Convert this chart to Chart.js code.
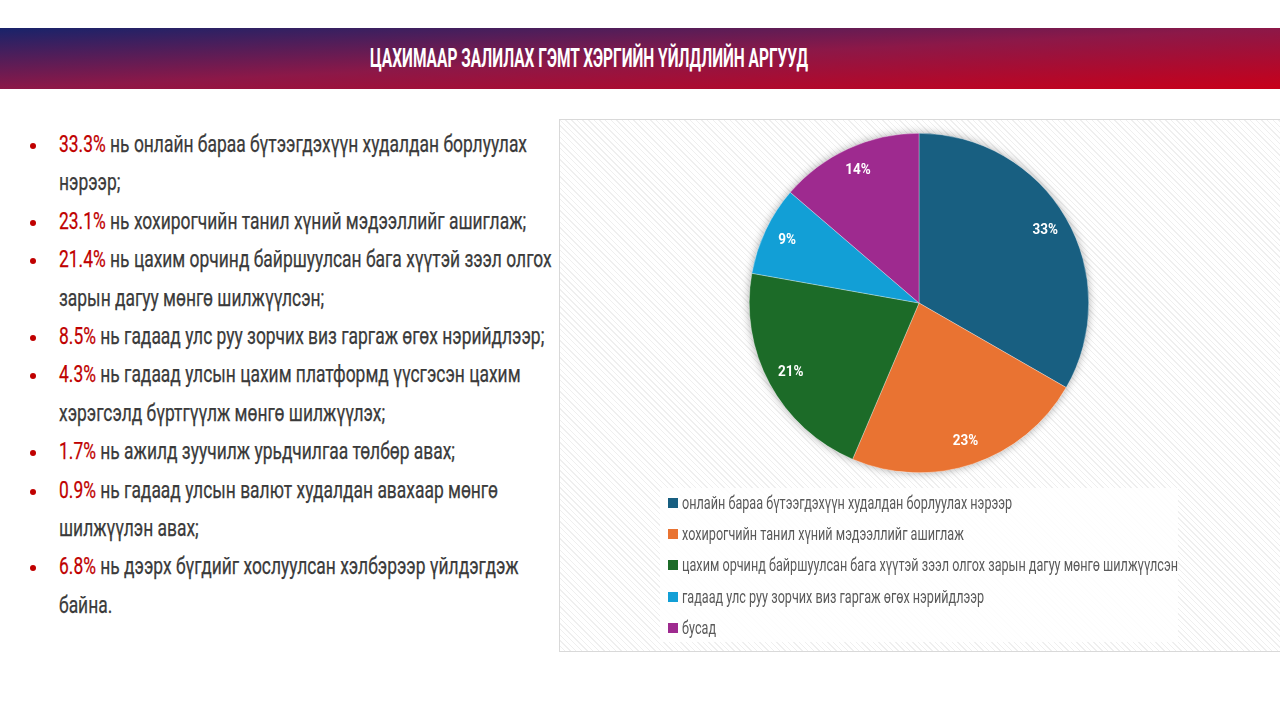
<!DOCTYPE html>
<html>
<head>
<meta charset="utf-8">
<script src="https://cdn.jsdelivr.net/npm/chart.js@4"></script>
<style>
  html, body { margin: 0; padding: 0; background: #fff; }
  body { width: 1280px; height: 720px; position: relative; overflow: hidden; font-family: Roboto, "Liberation Sans", sans-serif; }
  #banner { position: absolute; left: 0; top: 28px; width: 1280px; height: 61px;
    background: linear-gradient(to bottom right, #18236a 0%, #8c1848 50%, #c8001a 100%); }
  #banner h1 { position: absolute; left: 370px; top: 14px; margin: 0; color: #fff; font-size: 26px; line-height: 32px; font-weight: bold; white-space: nowrap; transform-origin: left top; }
  #list { position: absolute; left: 0; top: 126px; width: 600px; margin: 0; padding: 0; list-style: none; }
  #list li { position: relative; font-size: 23px; font-weight: 400; line-height: 38.4px; color: #3a3a3a; }
  #list .dot { position: absolute; left: 30px; top: 17px; width: 6px; height: 6px; border-radius: 3px; background: #c00000; }
  #list .txt { position: relative; left: 59px; transform-origin: left top; -webkit-text-stroke: 0.25px #3a3a3a; }
  #list .pc { color: #c00000; -webkit-text-stroke: 0.25px #c00000; }
  #panel { position: absolute; left: 559px; top: 119px; width: 730px; height: 531px; border: 1px solid #d9d9d9;
    background: repeating-linear-gradient(45deg, #ffffff 0px, #ffffff 3px, #efefef 3px, #efefef 4px); }
  #wrap { position: absolute; left: 719px; top: 103px; width: 400px; height: 400px; }
  #legend { position: absolute; left: 660px; top: 488px; width: 518px; height: 154px; background: rgba(255,255,255,0.88); }
  .li { position: absolute; left: 8px; height: 20px; white-space: nowrap; }
  .li span.box { position: absolute; left: 0; top: 5px; width: 10px; height: 10px; }
  .li span.tx { position: absolute; left: 14px; top: 0; line-height: 20px; font-size: 17.5px; color: #595959; transform-origin: left top; }
</style>
</head>
<body>
<div id="banner"><h1 id="title">ЦАХИМААР ЗАЛИЛАХ ГЭМТ ХЭРГИЙН ҮЙЛДЛИЙН АРГУУД</h1></div>
<ul id="list"></ul>
<div id="panel"></div>
<div id="wrap"><canvas id="pie"></canvas></div>
<div id="legend"></div>
<script>
// pie data
const labels = [
  'онлайн бараа бүтээгдэхүүн худалдан борлуулах нэрээр',
  'хохирогчийн танил хүний мэдээллийг ашиглаж',
  'цахим орчинд байршуулсан бага хүүтэй зээл олгох зарын дагуу мөнгө шилжүүлсэн',
  'гадаад улс руу зорчих виз гаргаж өгөх нэрийдлээр',
  'бусад'
]
const values = [33.3, 23.1, 21.4, 8.5, 13.7]
const colors = ['#185f81', '#e97332', '#1c6b28', '#129fd6', '#9e2a8f']

// bullet list on the left
const bulletPercents = ['33.3%', '23.1%', '21.4%', '8.5%', '4.3%', '1.7%', '0.9%', '6.8%']
const bulletTexts = [
  'нь онлайн бараа бүтээгдэхүүн худалдан борлуулах нэрээр;',
  'нь хохирогчийн танил хүний мэдээллийг ашиглаж;',
  'нь цахим орчинд байршуулсан бага хүүтэй зээл олгох зарын дагуу мөнгө шилжүүлсэн;',
  'нь гадаад улс руу зорчих виз гаргаж өгөх нэрийдлээр;',
  'нь гадаад улсын цахим платформд үүсгэсэн цахим хэрэгсэлд бүртгүүлж мөнгө шилжүүлэх;',
  'нь ажилд зуучилж урьдчилгаа төлбөр авах;',
  'нь гадаад улсын валют худалдан авахаар мөнгө шилжүүлэн авах;',
  'нь дээрх бүгдийг хослуулсан хэлбэрээр үйлдэгдэж байна.'
]

// squeeze a text horizontally so it looks like the condensed face of the slide
function squeeze(el, targetWidth) {
  const w = el.getBoundingClientRect().width
  const s = targetWidth / w
  el.style.transform = 'scaleX(' + s + ')'
  return s
}

const title = document.getElementById('title')
squeeze(title, 438)

// measure the first line to get the condensing factor for the list
const probe = document.createElement('span')
probe.style.cssText = 'position:absolute;visibility:hidden;white-space:nowrap;font-size:23px;font-weight:400;font-family:Roboto'
probe.textContent = bulletPercents[0] + ' нь онлайн бараа бүтээгдэхүүн худалдан борлуулах'
document.body.appendChild(probe)
const listScale = 468 / probe.getBoundingClientRect().width
probe.remove()

const list = document.getElementById('list')
bulletPercents.forEach((p, i) => {
  const li = document.createElement('li')
  li.innerHTML = '<span class="dot"></span><div class="txt"><span class="pc">' + p + '</span> ' + bulletTexts[i] + '</div>'
  const txt = li.querySelector('.txt')
  txt.style.width = (505 / listScale) + 'px'
  txt.style.transform = 'scaleX(' + listScale + ')'
  list.appendChild(li)
})

const legend = document.getElementById('legend')
const spans = []
labels.forEach((l, i) => {
  const d = document.createElement('div')
  d.className = 'li'
  d.style.top = (5 + i * 31.2) + 'px'
  d.innerHTML = '<span class="box" style="background:' + colors[i] + '"></span><span class="tx">' + l + '</span>'
  legend.appendChild(d)
  spans.push(d.querySelector('.tx'))
})
// longest legend entry spans about 496px in the slide
const legScale = squeeze(spans[2], 496)
spans.forEach(s => { s.style.transform = 'scaleX(' + legScale + ')' })

// soft shadow under the pie
const shadowPlugin = {
  id: 'pieShadow',
  beforeDatasetsDraw(chart) {
    const arc = chart.getDatasetMeta(0).data[0]
    const ctx = chart.ctx
    ctx.save()
    ctx.shadowColor = 'rgba(0,0,0,0.35)'
    ctx.shadowBlur = 9
    ctx.fillStyle = '#fff'
    ctx.beginPath()
    ctx.arc(arc.x, arc.y, arc.outerRadius, 0, Math.PI * 2)
    ctx.fill()
    ctx.restore()
  }
}

// percent labels inside the slices
const labelPlugin = {
  id: 'pctLabels',
  afterDatasetsDraw(chart) {
    const ctx = chart.ctx
    const ds = chart.data.datasets[0]
    ctx.save()
    ctx.fillStyle = '#fff'
    ctx.font = 'bold 15px Roboto, "Liberation Sans", sans-serif'
    ctx.textAlign = 'center'
    ctx.textBaseline = 'middle'
    chart.getDatasetMeta(0).data.forEach((arc, i) => {
      const a = (arc.startAngle + arc.endAngle) / 2
      const r = arc.outerRadius * 0.86
      ctx.save()
      ctx.translate(arc.x + Math.cos(a) * r, arc.y + Math.sin(a) * r)
      ctx.scale(0.9, 1)
      ctx.fillText(Math.round(ds.data[i]) + '%', 0, 0)
      ctx.restore()
    })
    ctx.restore()
  }
}

new Chart(document.getElementById('pie').getContext('2d'), {
  type: 'pie',
  data: {
    labels: labels,
    datasets: [{
      data: values,
      backgroundColor: colors,
      borderColor: 'rgba(255,255,255,0.6)',
      borderWidth: 0.5
    }]
  },
  options: {
    responsive: true,
    maintainAspectRatio: false,
    animation: false,
    layout: { padding: 30 },
    plugins: {
      legend: { display: false },
      tooltip: { enabled: false }
    }
  },
  plugins: [shadowPlugin, labelPlugin]
})
</script>
</body>
</html>
